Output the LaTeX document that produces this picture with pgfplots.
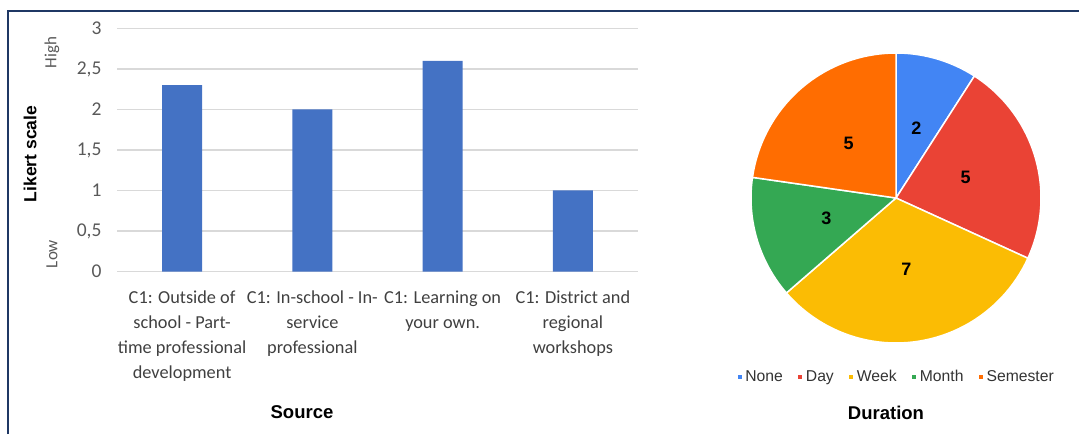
\documentclass[border=0pt]{standalone}
\usepackage{fontspec}
\setmainfont{Carlito}
\newfontfamily\arial{Liberation Sans}
\usepackage{pgfplots}
\pgfplotsset{compat=1.18}
\definecolor{barblue}{HTML}{4472C4}
\definecolor{gridgray}{HTML}{D9D9D9}
\definecolor{ticktext}{HTML}{595959}
\definecolor{xtext}{HTML}{404040}
\definecolor{framecol}{HTML}{1F3864}
\definecolor{pNone}{HTML}{4285F4}
\definecolor{pDay}{HTML}{EA4335}
\definecolor{pWeek}{HTML}{FBBC04}
\definecolor{pMonth}{HTML}{34A853}
\definecolor{pSem}{HTML}{FF6D01}
\definecolor{legtext}{HTML}{333333}
\begin{document}
\begin{tikzpicture}[x=1pt,y=1pt]
\path[use as bounding box] (0,0) rectangle (1079,434);
\draw[framecol, line width=2pt] (8,0) -- (8,423) -- (1079,423);

\begin{axis}[at={(117pt,162.5pt)}, anchor=south west, scale only axis,
  width=521pt, height=243pt,
  xmin=-0.5, xmax=3.5, ymin=0, ymax=3,
  axis line style={draw=none}, major tick length=0pt,
  ytick={0,0.5,1,1.5,2,2.5,3}, yticklabels={0,{0,5},1,{1,5},2,{2,5},3},
  ymajorgrids, grid style={gridgray, line width=1.4pt},
  yticklabel style={font=\fontsize{19.5}{20}\selectfont, text=ticktext, xshift=-12pt},
  xtick={0,1,2,3},
  xticklabels={{C1: Outside of\\school - Part-\\time professional\\development},
    {C1: In-school - In-\\service\\professional},
    {C1: Learning on\\your own.},
    {C1: District and\\regional\\workshops}},
  xticklabel style={align=center, font=\fontsize{18.3}{25}\selectfont, text=xtext, yshift=-16pt},
  ybar, bar width=40pt,
]
\addplot[fill=barblue, draw=none] coordinates {(0,2.3) (1,2.0) (2,2.6) (3,1.0)};
\end{axis}

\node[rotate=90, font=\arial\bfseries\fontsize{17.5}{20}\selectfont] at (30,280) {Likert scale};
\node[rotate=90, font=\fontsize{17}{18}\selectfont, text=ticktext] at (52,381.5) {High};
\node[rotate=90, font=\fontsize{17}{18}\selectfont, text=ticktext] at (52,180) {Low};
\node[font=\arial\bfseries\fontsize{18.5}{20}\selectfont] at (302,22) {Source};
\node[font=\arial\bfseries\fontsize{18.5}{20}\selectfont] at (886,21) {Duration};

\begin{axis}[at={(751pt,91pt)}, anchor=south west, scale only axis,
  width=290pt, height=290pt, xmin=-1, xmax=1, ymin=-1, ymax=1,
  hide axis, clip=false,
  legend columns=5,
  legend image code/.code={\fill[#1] (0pt,-2.8pt) rectangle (5.6pt,2.8pt);},
  legend style={at={(0.5,-0.117)}, anchor=center, draw=none, fill=none,
    font=\arial\fontsize{15.7}{18}\selectfont, text=legtext,
    /tikz/every even column/.append style={column sep=12pt}},
]
\addplot[fill=pNone, draw=white, line width=1.5pt, domain={90-360*2/22}:90, samples=30] ({cos(x)},{sin(x)}) -- (axis cs:0,0) -- cycle;
\addlegendentry{None}
\addplot[fill=pDay, draw=white, line width=1.5pt, domain={90-360*7/22}:{90-360*2/22}, samples=40] ({cos(x)},{sin(x)}) -- (axis cs:0,0) -- cycle;
\addlegendentry{Day}
\addplot[fill=pWeek, draw=white, line width=1.5pt, domain={90-360*14/22}:{90-360*7/22}, samples=50] ({cos(x)},{sin(x)}) -- (axis cs:0,0) -- cycle;
\addlegendentry{Week}
\addplot[fill=pMonth, draw=white, line width=1.5pt, domain={90-360*17/22}:{90-360*14/22}, samples=30] ({cos(x)},{sin(x)}) -- (axis cs:0,0) -- cycle;
\addlegendentry{Month}
\addplot[fill=pSem, draw=white, line width=1.5pt, domain={90-360*22/22}:{90-360*17/22}, samples=40] ({cos(x)},{sin(x)}) -- (axis cs:0,0) -- cycle;
\addlegendentry{Semester}
\node[font=\arial\bfseries\fontsize{18}{20}\selectfont] at (axis cs:{0.5*cos(73.6)},{0.5*sin(73.6)}) {2};
\node[font=\arial\bfseries\fontsize{18}{20}\selectfont] at (axis cs:{0.5*cos(16.4)},{0.5*sin(16.4)}) {5};
\node[font=\arial\bfseries\fontsize{18}{20}\selectfont] at (axis cs:{0.5*cos(-81.8)},{0.5*sin(-81.8)}) {7};
\node[font=\arial\bfseries\fontsize{18}{20}\selectfont] at (axis cs:{0.5*cos(-163.6)},{0.5*sin(-163.6)}) {3};
\node[font=\arial\bfseries\fontsize{18}{20}\selectfont] at (axis cs:{0.5*cos(130.9)},{0.5*sin(130.9)}) {5};
\end{axis}
\end{tikzpicture}
\end{document}
